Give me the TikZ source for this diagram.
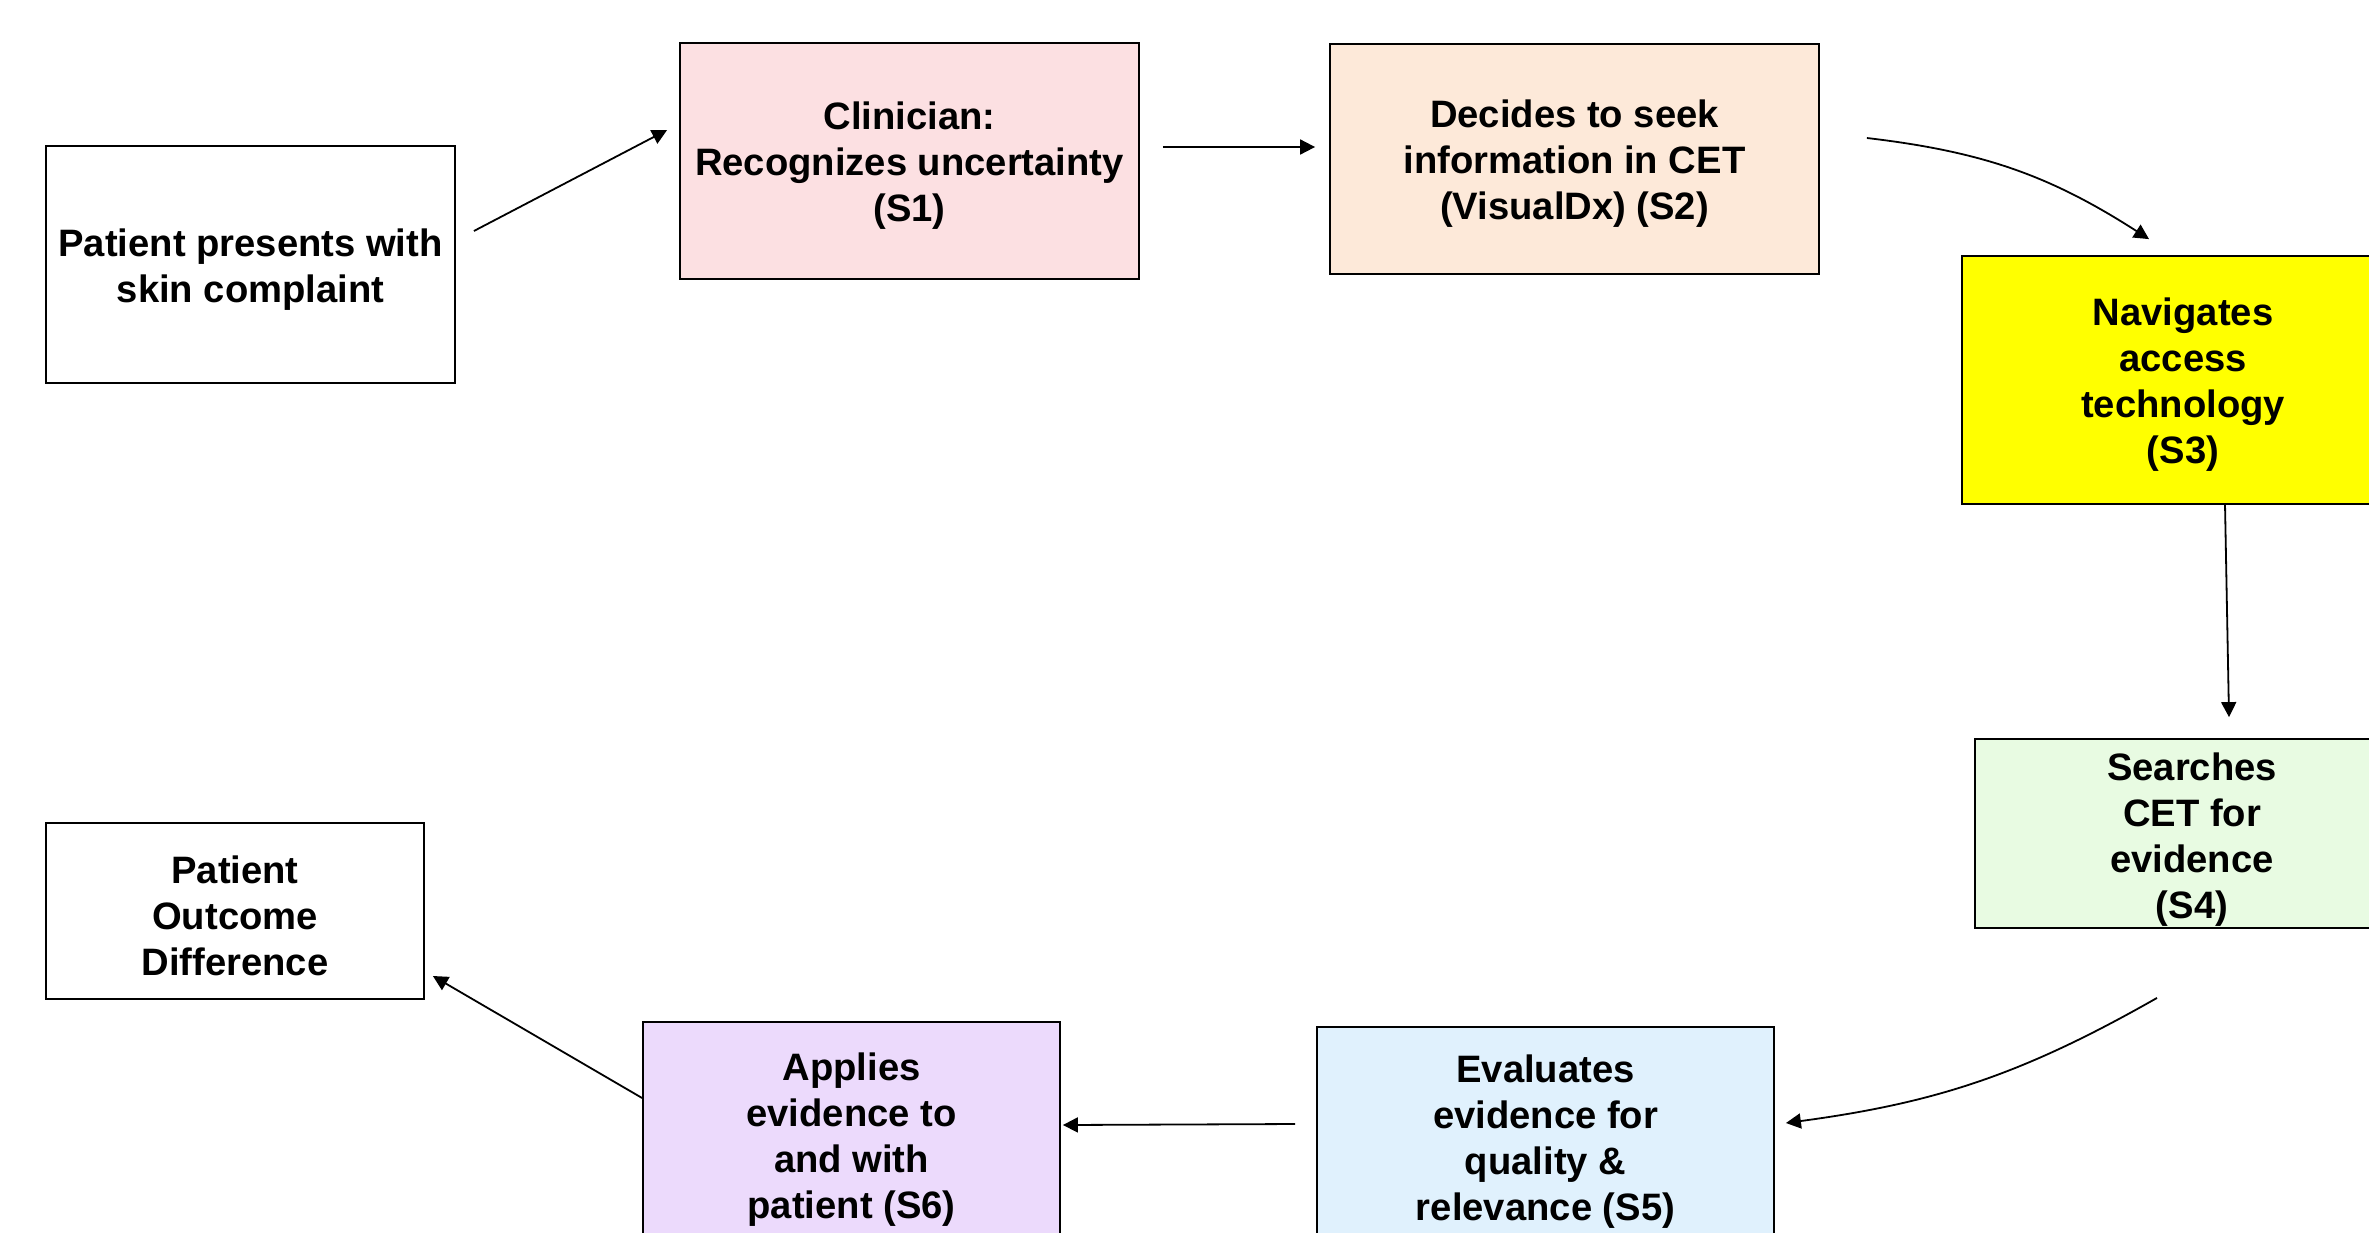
\documentclass[tikz,border=0pt]{standalone}
\usepackage{fontspec}
\setmainfont{Liberation Sans}
\usetikzlibrary{arrows.meta,calc}
\definecolor{cpink}{RGB}{252,224,226}
\definecolor{cpeach}{RGB}{253,233,217}
\definecolor{cyell}{RGB}{255,255,0}
\definecolor{cgreen}{RGB}{232,251,226}
\definecolor{cblue}{RGB}{224,241,253}
\definecolor{clav}{RGB}{236,218,252}
\begin{document}
\begin{tikzpicture}[x=0.5pt,y=-0.5pt,
  box/.style={draw=black,line width=0.9pt,inner sep=0pt},
  txt/.style={inner sep=0pt,align=center,
    font=\fontsize{19.1pt}{23pt}\selectfont\bfseries},
  arr/.style={line width=0.9pt,-{Triangle[length=7.5pt,width=7.5pt]}}]
\useasboundingbox (0,0) rectangle (2369,1232);
\clip (0,0) rectangle (2369,1232);
\fill[white] (0,0) rectangle (2369,1232);
\node[box,fill=white,minimum width=204.5pt,minimum height=118.5pt] (P) at (250.5,264.5) {};
\node[txt] (Pt) at ($(P)+(0,5)$) {Patient presents with\\skin complaint};
\node[box,fill=cpink,minimum width=229.5pt,minimum height=118pt] (S1) at (909.5,161) {};
\node[txt] (S1t) at ($(S1)+(0,5)$) {Clinician:\\Recognizes uncertainty\\(S1)};
\node[box,fill=cpeach,minimum width=244.5pt,minimum height=115pt] (S2) at (1574.5,159) {};
\node[txt] (S2t) at ($(S2)+(0,5)$) {Decides to seek\\information in CET\\(VisualDx) (S2)};
\node[box,fill=cyell,minimum width=221pt,minimum height=124pt] (S3) at (2183,380) {};
\node[txt] (S3t) at ($(S3)+(0,5)$) {Navigates\\access\\technology\\(S3)};
\node[box,fill=cgreen,minimum width=220pt,minimum height=94.5pt] (S4) at (2195,833.5) {};
\node[txt] (S4t) at ($(S4)+(-3,6)$) {Searches\\CET for\\evidence\\(S4)};
\node[box,fill=cblue,minimum width=228.5pt,minimum height=110pt] (S5) at (1545.5,1137) {};
\node[txt] (S5t) at ($(S5)+(0,5)$) {Evaluates\\evidence for\\quality \&\\relevance (S5)};
\node[box,fill=clav,minimum width=208.5pt,minimum height=112.5pt] (S6) at (851.5,1134.5) {};
\node[txt] (S6t) at ($(S6)+(0,5)$) {Applies\\evidence to\\and with\\patient (S6)};
\node[box,fill=white,minimum width=189pt,minimum height=88pt] (O) at (235,911) {};
\node[txt] (Ot) at ($(O)+(0,5)$) {Patient\\Outcome\\Difference};
\draw[arr] ($(P.east)+(18,-33.5)$) -- ($(S1.west)+(-12,-31)$);
\draw[arr] ($(S1.east)+(23,-14)$) -- ($(S2.west)+(-14,-12)$);
\draw[arr] ($(S2.east)+(47,-21)$) to[bend left=13] ($(S3.north)+(-34,-16)$);
\draw[arr] ($(S3.south)+(42,0)$) -- ($(S4.north)+(34,-21)$);
\draw[arr] ($(S4.south)+(-38,69)$) to[bend left=11] ($(S5.east)+(11,-14)$);
\draw[arr] ($(S5.west)+(-21,-13)$) -- ($(S6.east)+(2,-9.5)$);
\draw[arr] ($(S6.west)+(0,-36.5)$) -- ($(O.east)+(8,65)$);
\end{tikzpicture}
\end{document}
